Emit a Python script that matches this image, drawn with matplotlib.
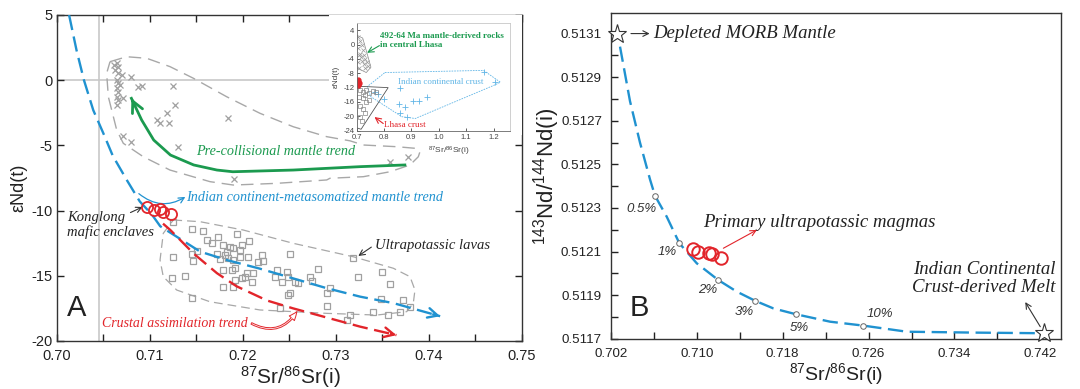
import matplotlib
matplotlib.use('Agg')
import matplotlib.pyplot as plt
import numpy as np
from matplotlib.patches import Polygon, Rectangle

plt.rcParams['font.family'] = ['Liberation Sans', 'DejaVu Sans']
plt.rcParams['mathtext.fontset'] = 'custom'
plt.rcParams['mathtext.rm'] = 'Liberation Sans'
plt.rcParams['mathtext.it'] = 'Liberation Sans:italic'
plt.rcParams['mathtext.bf'] = 'Liberation Sans:bold'
SERIF = ['Liberation Serif', 'DejaVu Serif']

# ---------------- Panel A data ----------------
pre_x = [0.7061, 0.7064, 0.7066, 0.7062, 0.7066, 0.7064, 0.7066, 0.7064, 0.7066, 0.7064,
         0.7066, 0.7064, 0.7068, 0.7070, 0.7071, 0.7080, 0.7087, 0.7091, 0.7125, 0.7127,
         0.7118, 0.7107, 0.7111, 0.7120, 0.7071, 0.7080, 0.7130, 0.7184, 0.7190, 0.7358, 0.7377]
pre_y = [1.17, 1.30, 1.04, 0.78, 0.53, 0.02, -0.24, -0.62, -0.88, -1.27,
         -1.52, -1.90, -0.37, 0.40, -1.39, 0.27, -0.50, -0.44, -0.44, -1.90,
         -2.54, -3.05, -3.31, -3.26, -4.28, -4.71, -5.10, -2.92, -7.58, -6.25, -5.89]

upl_x = [0.71251, 0.71448, 0.71573, 0.71735, 0.71932, 0.72068, 0.71609, 0.71663, 0.71789, 0.71860,
         0.71896, 0.71986, 0.71968, 0.71824, 0.71806, 0.71842, 0.71753, 0.71717, 0.71896, 0.71968,
         0.72057, 0.72201, 0.72219, 0.72165, 0.72505, 0.73186, 0.71251, 0.71466, 0.71502, 0.71448,
         0.71914, 0.71878, 0.71789, 0.72039, 0.71986, 0.72022, 0.72111, 0.72093, 0.71914, 0.71789,
         0.71896, 0.72362, 0.72470, 0.72487, 0.72344, 0.72416, 0.72559, 0.72595, 0.72720, 0.72738,
         0.72810, 0.72935, 0.72900, 0.72505, 0.72487, 0.71233, 0.71376, 0.71448, 0.72398, 0.72900,
         0.73151, 0.73115, 0.73398, 0.73559, 0.73685, 0.73487, 0.73720, 0.73792, 0.73240, 0.73491,
         0.73581]
upl_y = [-10.85, -11.44, -11.54, -12.00, -11.79, -12.31, -12.25, -12.51, -12.64, -12.77,
         -12.89, -12.64, -13.02, -13.15, -13.40, -13.66, -13.74, -13.33, -13.79, -13.53,
         -13.58, -13.40, -13.84, -13.92, -13.33, -13.66, -13.53, -13.86, -13.07, -13.33,
         -14.43, -14.56, -14.56, -14.81, -15.19, -15.12, -14.81, -15.45, -15.32, -15.83,
         -15.88, -14.56, -14.68, -15.07, -15.07, -15.45, -15.45, -15.58, -15.12, -15.37,
         -14.50, -15.96, -16.34, -16.34, -16.47, -15.14, -15.02, -16.73, -17.44, -17.32,
         -18.01, -18.39, -17.80, -18.01, -17.75, -16.78, -16.86, -17.37, -15.07, -14.68,
         -15.63]

enclave_x = [0.7097, 0.7104, 0.7111, 0.7114, 0.7123]
enclave_y = [-9.7, -9.95, -9.9, -10.1, -10.25]

pre_env_x = [0.70570, 0.70749, 0.70965, 0.71215, 0.71466, 0.71825, 0.72183, 0.72541, 0.72900, 0.73151,
             0.73294, 0.73652, 0.73849, 0.73903, 0.73885, 0.73796, 0.73581, 0.73294, 0.72935, 0.72900,
             0.72362, 0.71896, 0.71645, 0.71215, 0.70928, 0.70713, 0.70642, 0.70552, 0.70534]
pre_env_y = [1.42, 1.80, 1.68, 1.04, 0.15, -1.27, -2.54, -3.57, -4.33, -4.65,
             -4.97, -5.10, -5.22, -5.48, -5.87, -6.50, -7.02, -7.40, -7.52, -7.65,
             -7.91, -8.04, -7.78, -6.89, -5.87, -4.84, -3.82, -1.27, 0.53]

upl_env_x = [0.71251, 0.71538, 0.72003, 0.72541, 0.73186, 0.73616, 0.73796, 0.73849, 0.73831,
             0.73760, 0.73438, 0.72900, 0.72183, 0.71645, 0.71287, 0.71143, 0.71108, 0.71143]
upl_env_y = [-10.72, -10.85, -11.49, -12.51, -13.54, -14.42, -15.07, -16.09, -17.11,
             -17.75, -18.01, -17.88, -17.62, -16.99, -16.09, -15.07, -13.79, -11.74]

blue_x = [0.7013, 0.7021, 0.7029, 0.7039, 0.7050, 0.7060, 0.7075, 0.7089, 0.7102, 0.7111,
          0.7154, 0.7183, 0.7218, 0.7254, 0.7290, 0.7326, 0.7362, 0.7412]
blue_y = [5.0, 2.3, 0.0, -2.3, -4.1, -5.8, -7.65, -9.3, -10.3, -11.2,
          -13.15, -13.8, -14.45, -15.2, -15.95, -16.6, -17.1, -18.1]

red_x = [0.7114, 0.7122, 0.7147, 0.7172, 0.7193, 0.7226, 0.7254, 0.7290, 0.7326, 0.7365]
red_y = [-11.0, -11.5, -13.3, -14.8, -15.8, -16.9, -17.5, -18.2, -18.9, -19.55]

green_x = [0.7374, 0.7326, 0.7254, 0.7189, 0.7172, 0.7147, 0.7122, 0.7104, 0.7091, 0.7080]
green_y = [-6.5, -6.63, -6.89, -7.02, -6.89, -6.5, -5.74, -4.59, -3.05, -1.39]

bulk_earth_sr = 0.7045
chur_end = 0.0

# ---------------- Inset data ----------------
ins_mantle_x = [0.705, 0.712, 0.718, 0.706, 0.722, 0.711, 0.727, 0.716, 0.732, 0.721, 0.737, 0.727,
                0.742, 0.732, 0.709, 0.704, 0.708]
ins_mantle_y = [2.0, 1.0, 0.0, -1.0, -1.5, -2.5, -3.0, -3.5, -4.0, -4.5, -5.0, -5.5,
                -6.0, -6.5, -3.0, -5.0, -6.5]
ins_mantle_env_x = [0.700, 0.722, 0.752, 0.735, 0.700]
ins_mantle_env_y = [2.6, 1.8, -6.3, -7.8, -6.5]
ins_lhasa_env_x = [0.700, 0.815, 0.716, 0.700]
ins_lhasa_env_y = [-11.6, -12.0, -23.6, -23.2]
ins_lhasa_x = [0.712, 0.722, 0.735, 0.745, 0.758, 0.772, 0.722, 0.733, 0.745, 0.712, 0.722, 0.731,
               0.712, 0.720, 0.708, 0.730]
ins_lhasa_y = [-12.6, -13.2, -12.6, -13.6, -12.9, -13.1, -15.0, -16.0, -15.4, -17.0, -18.0, -19.0,
               -20.2, -21.2, -14.5, -14.0]
ins_crust_env_x = [0.803, 1.163, 1.225, 1.200, 0.914, 0.865, 0.751, 0.739]
ins_crust_env_y = [-7.8, -7.2, -10.5, -11.4, -20.6, -20.1, -14.5, -11.7]
ins_crust_x = [0.859, 0.907, 0.926, 0.956, 0.853, 0.877, 0.859, 0.883, 0.779, 0.798, 1.164, 1.207, 0.766]
ins_crust_y = [-12.05, -15.6, -15.6, -14.7, -16.5, -17.5, -19.2, -20.3, -13.7, -15.1, -7.7, -10.5, -13.2]
ins_red_x = [0.705, 0.707, 0.706]
ins_red_y = [-10.0, -10.7, -11.2]

# ---------------- Panel B data ----------------
curve_x = [0.70284, 0.70377, 0.70470, 0.70564, 0.7061, 0.70719, 0.70837, 0.70999, 0.71200,
           0.71372, 0.71543, 0.71713, 0.71925, 0.72242, 0.72552, 0.72957, 0.73578, 0.74237]
curve_y = [0.51304, 0.51279, 0.51260, 0.51243, 0.512356, 0.51226, 0.512138, 0.512046, 0.511969,
           0.511916, 0.511874, 0.511839, 0.511812, 0.511778, 0.511760, 0.511732, 0.511728, 0.511725]
mix_x = [0.7061, 0.70837, 0.71200, 0.71543, 0.71925, 0.72552]
mix_y = [0.512356, 0.512138, 0.511969, 0.511874, 0.511812, 0.511760]
mix_labels = ['0.5%', '1%', '2%', '3%', '5%', '10%']
mix_lab_x = [0.7048, 0.70722, 0.71104, 0.71440, 0.71953, 0.72708]
mix_lab_y = [0.512295, 0.512099, 0.511923, 0.511822, 0.511750, 0.511812]
prim_x = [0.70962, 0.71014, 0.71117, 0.71139, 0.71226]
prim_y = [0.51211, 0.512099, 0.512092, 0.512089, 0.512069]
dmm = (0.7026, 0.5131)
icc = (0.74237, 0.511725)

BLUE = '#2092d0'
RED = '#e2252b'
GREEN = '#1b9a4f'
LBLUE = '#62b6e6'

fig = plt.figure(figsize=(10.8, 3.89), dpi=100)
axA = fig.add_axes([57/1080, 1-341/389, 465/1080, 326/389])
axB = fig.add_axes([611/1080, 1-338.7/389, 450/1080, 325.4/389])
axI = fig.add_axes([356.7/1080, 1-130.7/389, 153.3/1080, 107.7/389])


def arrow_head(ax, xs, ys, color, lw, scale=14):
    x1, y1, x0, y0 = xs[-1], ys[-1], xs[-2], ys[-2]
    ax.annotate('', xy=(x1, y1), xytext=(x1 - (x1 - x0) * 0.15, y1 - (y1 - y0) * 0.15),
                arrowprops=dict(arrowstyle='->,head_length=0.5,head_width=0.25', color=color,
                                lw=lw, mutation_scale=scale, shrinkA=0, shrinkB=0))

# ---------------- Panel A ----------------
ax = axA
ax.set_xlim(0.70, 0.75)
ax.set_ylim(-20, 5)
ax.axvline(bulk_earth_sr, color='#c8c8c8', lw=1.2, zorder=1)
ax.axhline(chur_end, color='#c8c8c8', lw=1.2, zorder=1)

ax.add_patch(Polygon(np.column_stack([pre_env_x, pre_env_y]), closed=True, fill=False,
                     ec='#a8a8a8', lw=1.0, ls=(0, (9, 5)), zorder=2))
ax.add_patch(Polygon(np.column_stack([upl_env_x, upl_env_y]), closed=True, fill=False,
                     ec='#a8a8a8', lw=0.9, ls=(0, (7, 4)), zorder=2))
ax.plot(pre_x, pre_y, ls='none', marker='x', ms=5, mec='#a0a0a0', mew=0.9, zorder=3)
ax.plot(upl_x, upl_y, ls='none', marker='s', ms=5, mfc='none', mec='#a0a0a0', mew=0.9, zorder=3)

ax.plot(green_x, green_y, color=GREEN, lw=2.0, zorder=4)
arrow_head(ax, green_x, green_y, GREEN, 2.0, 16)
ax.plot(blue_x, blue_y, color=BLUE, lw=1.7, dashes=(6.5, 2.8), zorder=5)
arrow_head(ax, blue_x, blue_y, BLUE, 1.7)
ax.plot(red_x, red_y, color=RED, lw=1.7, dashes=(6.5, 2.8), zorder=5)
arrow_head(ax, red_x, red_y, RED, 1.7)
ax.plot(enclave_x, enclave_y, ls='none', marker='o', ms=8, mfc='none', mec=RED, mew=1.3, zorder=6)

# white backing for inset
ax.add_patch(Rectangle((0.7293, -4.2), 0.0207, 9.2, fc='white', ec='none', zorder=7))

ax.text(0.7150, -5.45, 'Pre-collisional mantle trend', family=SERIF, style='italic',
        fontsize=10.2, color=GREEN, va='center', ha='left', zorder=8)
ax.text(0.7139, -9.0, 'Indian continent-metasomatized mantle trend', family=SERIF, style='italic',
        fontsize=10.2, color=BLUE, va='center', ha='left', zorder=8)
ax.annotate('', xy=(0.7138, -8.95), xytext=(0.7088, -8.7),
            arrowprops=dict(arrowstyle='->', color=BLUE, lw=0.9,
                            connectionstyle='arc3,rad=0.35', shrinkA=0, shrinkB=0))
ax.text(0.7011, -10.05, 'Konglong\nmafic enclaves', family=SERIF, style='italic',
        fontsize=10.5, color='#222222', va='top', ha='left', linespacing=1.05, zorder=8)
ax.annotate('', xy=(0.7092, -9.72), xytext=(0.7079, -10.15),
            arrowprops=dict(arrowstyle='->', color='#333333', lw=0.8, shrinkA=0, shrinkB=0))
ax.text(0.7342, -12.7, 'Ultrapotassic lavas', family=SERIF, style='italic',
        fontsize=10.5, color='#222222', va='center', ha='left', zorder=8)
ax.annotate('', xy=(0.7324, -13.48), xytext=(0.7338, -12.8),
            arrowprops=dict(arrowstyle='->', color='#333333', lw=0.8, shrinkA=0, shrinkB=0))
ax.text(0.7048, -18.65, 'Crustal assimilation trend', family=SERIF, style='italic',
        fontsize=10, color=RED, va='center', ha='left', zorder=8)
ax.annotate('', xy=(0.7258, -17.75), xytext=(0.7209, -18.65),
            arrowprops=dict(arrowstyle='simple,head_length=0.6,head_width=0.5,tail_width=0.12',
                            fc='white', ec=RED, lw=0.7,
                            connectionstyle='arc3,rad=0.45', shrinkA=0, shrinkB=0))
ax.text(0.7011, -17.45, 'A', fontsize=21, color='#222222', va='center', ha='left')

ax.set_xticks(np.arange(0.700, 0.7501, 0.005))
ax.set_xticklabels(['0.70', '', '0.71', '', '0.72', '', '0.73', '', '0.74', '', '0.75'])
ax.set_yticks([5, 0, -5, -10, -15, -20])
ax.set_yticklabels(['5', '0', '-5', '-10', '-15', '-20'])
ax.tick_params(direction='in', length=5, width=1, labelsize=10.5, colors='#222222',
               top=True, right=True)
ax.tick_params(axis='x', pad=6)
ax.tick_params(axis='y', pad=3)
for s in ax.spines.values():
    s.set_color('#333333')
    s.set_linewidth(1.0)
ax.set_xlabel(r'$^{87}$Sr/$^{86}$Sr(i)', fontsize=15, color='#222222')
ax.set_ylabel('εNd(t)', fontsize=13, color='#222222')
ax.xaxis.set_label_coords(0.501, -0.072)
ax.yaxis.set_label_coords(-0.063, 0.469)

# ---------------- Inset ----------------
ai = axI
ai.set_facecolor('white')
ai.set_zorder(10)
ai.set_xlim(0.7, 1.26)
ai.set_ylim(-24, 6)
ai.add_patch(Polygon(np.column_stack([ins_crust_env_x, ins_crust_env_y]), closed=True, fill=False,
                     ec=LBLUE, lw=0.6, ls=(0, (2, 1.2))))
ai.plot(ins_crust_x, ins_crust_y, ls='none', marker='+', ms=4, mec=LBLUE, mew=0.6)
ai.add_patch(Polygon(np.column_stack([ins_mantle_env_x, ins_mantle_env_y]), closed=True, fill=False,
                     ec='#888888', lw=0.5))
ai.plot(ins_mantle_x, ins_mantle_y, ls='none', marker='x', ms=3, mec='#999999', mew=0.5)
ai.add_patch(Polygon(np.column_stack([ins_lhasa_env_x, ins_lhasa_env_y]), closed=True, fill=False,
                     ec='#555555', lw=0.6))
ai.plot(ins_lhasa_x, ins_lhasa_y, ls='none', marker='s', ms=2.8, mfc='none', mec='#888888', mew=0.5)
ai.plot(ins_red_x, ins_red_y, ls='none', marker='o', ms=3.5, mfc=RED, mec=RED)
ai.text(0.785, 1.2, '492-64 Ma mantle-derived rocks\nin central Lhasa', family=SERIF,
        fontweight='bold', fontsize=6.5, color=GREEN, va='center', ha='left', linespacing=1.1)
ai.annotate('', xy=(0.738, -2.3), xytext=(0.783, -0.3),
            arrowprops=dict(arrowstyle='->', color=GREEN, lw=0.8, shrinkA=0, shrinkB=0))
ai.text(1.005, -10.3, 'Indian continental crust', family=SERIF, fontsize=6.5, color=LBLUE,
        va='center', ha='center')
ai.text(0.80, -22.5, 'Lhasa crust', family=SERIF, fontsize=6.5, color=RED, va='center', ha='left')
ai.annotate('', xy=(0.765, -20.2), xytext=(0.797, -22.0),
            arrowprops=dict(arrowstyle='->', color=RED, lw=0.8, shrinkA=0, shrinkB=0))
ai.set_xticks([0.7, 0.8, 0.9, 1.0, 1.1, 1.2])
ai.set_xticklabels(['0.7', '0.8', '0.9', '1.0', '1.1', '1.2'])
ai.set_yticks([4, 0, -4, -8, -12, -16, -20, -24])
ai.set_yticklabels(['4', '0', '-4', '-8', '-12', '-16', '-20', '-24'])
ai.tick_params(direction='in', length=2, width=0.6, labelsize=5.5, colors='#444444')
ai.tick_params(axis='x', pad=2.5)
ai.tick_params(axis='y', pad=1.5)
for k in ['left', 'bottom']:
    ai.spines[k].set_color('#666666')
    ai.spines[k].set_linewidth(0.6)
for k in ['top', 'right']:
    ai.spines[k].set_color('#c8c8c8')
    ai.spines[k].set_linewidth(0.6)
ai.set_xlabel(r'$^{87}$Sr/$^{86}$Sr(i)', fontsize=6, color='#444444', labelpad=0)
ai.set_ylabel('εNd(t)', fontsize=6, color='#444444', labelpad=0)
ai.xaxis.set_label_coords(0.6, -0.13)
ai.yaxis.set_label_coords(-0.11, 0.5)

# ---------------- Panel B ----------------
ax = axB
ax.set_xlim(0.702, 0.74393)
ax.set_ylim(0.5117, 0.513193)
ax.plot(curve_x, curve_y, color=BLUE, lw=1.7, dashes=(6.5, 2.8), zorder=3)
ax.plot(mix_x, mix_y, ls='none', marker='o', ms=4, mfc='white', mec='#666666', mew=0.7, zorder=4)
for lab, lx, ly in zip(mix_labels, mix_lab_x, mix_lab_y):
    ax.text(lx, ly, lab, fontsize=9.5, style='italic', color='#333333', ha='center', va='center')
ax.plot(prim_x, prim_y, ls='none', marker='o', ms=9, mfc='none', mec=RED, mew=1.4, zorder=5)
ax.plot([dmm[0], icc[0]], [dmm[1], icc[1]], ls='none', marker='*', ms=14, mfc='white',
        mec='#333333', mew=0.8, zorder=6, clip_on=False)
ax.text(0.70592, 0.5131, 'Depleted MORB Mantle', family=SERIF, style='italic', fontsize=13.5,
        color='#222222', va='center', ha='left')
ax.annotate('', xy=(0.70560, 0.5131), xytext=(0.70386, 0.5131),
            arrowprops=dict(arrowstyle='->', color='#333333', lw=0.8, shrinkA=0, shrinkB=0))
ax.text(0.71058, 0.512235, 'Primary ultrapotassic magmas', family=SERIF, style='italic',
        fontsize=13.5, color='#222222', va='center', ha='left')
ax.annotate('', xy=(0.71559, 0.512199), xytext=(0.71247, 0.512115),
            arrowprops=dict(arrowstyle='->', color=RED, lw=0.8, shrinkA=0, shrinkB=0))
ax.text(0.74340, 0.511975, 'Indian Continental\nCrust-derived Melt', family=SERIF, style='italic',
        fontsize=13.5, color='#222222', va='center', ha='right', multialignment='right',
        linespacing=1.1)
ax.annotate('', xy=(0.74060, 0.511868), xytext=(0.74200, 0.511755),
            arrowprops=dict(arrowstyle='->', color='#333333', lw=0.8, shrinkA=0, shrinkB=0))
ax.text(0.70377, 0.511843, 'B', fontsize=21, color='#222222', va='center', ha='left')

ax.set_xticks(np.arange(0.702, 0.7421, 0.004))
ax.set_xticklabels(['0.702', '', '0.710', '', '0.718', '', '0.726', '', '0.734', '', '0.742'])
yt = np.round(np.arange(0.5117, 0.51311, 0.0001), 4)
ax.set_yticks(yt)
ax.set_yticklabels([('%.4f' % v) if i % 2 == 0 else '' for i, v in enumerate(yt)])
ax.tick_params(direction='in', length=5, width=1, labelsize=9.6, colors='#222222', pad=6.5)
for s in ax.spines.values():
    s.set_color('#333333')
    s.set_linewidth(1.0)
ax.set_xlabel(r'$^{87}$Sr/$^{86}$Sr(i)', fontsize=14, color='#222222')
ax.set_ylabel(r'$^{143}$Nd/$^{144}$Nd(i)', fontsize=16, color='#222222')
ax.xaxis.set_label_coords(0.501, -0.068)
ax.yaxis.set_label_coords(-0.109, 0.5)

fig.savefig('out.png', dpi=100)
